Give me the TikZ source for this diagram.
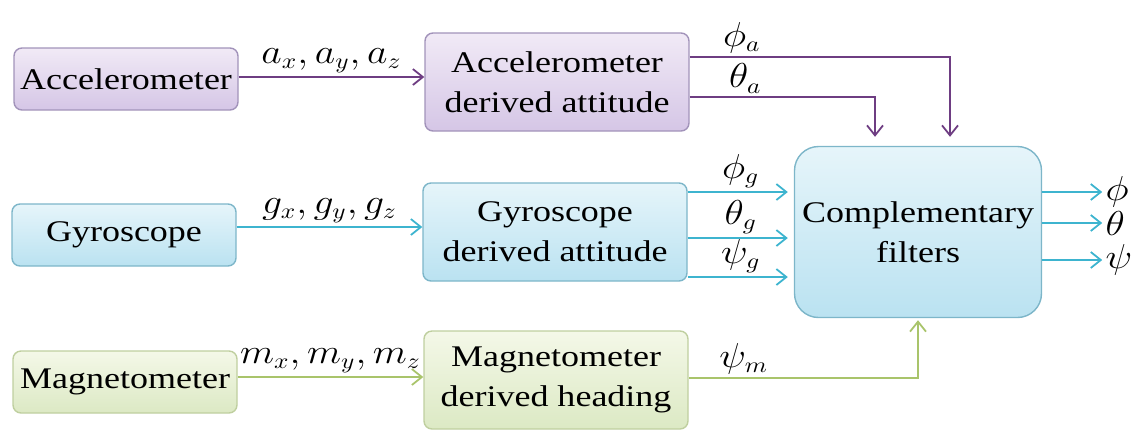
\documentclass[tikz,border=0pt]{standalone}
\usepackage{fontspec}
\setmainfont{Liberation Serif}[FakeStretch=1.2]
\usepackage{graphicx}
\usepackage{tikz}
\usetikzlibrary{arrows.meta}
\definecolor{acctop}{HTML}{F1EAF6}
\definecolor{accbot}{HTML}{D5C6E6}
\definecolor{accline}{HTML}{A293BA}
\definecolor{accarrow}{HTML}{6E3D82}
\definecolor{gyrotop}{HTML}{E6F5FA}
\definecolor{gyrobot}{HTML}{BAE2F1}
\definecolor{gyroline}{HTML}{7DB6C9}
\definecolor{gyroarrow}{HTML}{3DB4CF}
\definecolor{magtop}{HTML}{F4F8E8}
\definecolor{magbot}{HTML}{DCE9C4}
\definecolor{magline}{HTML}{BFCF9F}
\definecolor{magarrow}{HTML}{A9C46B}
\newcommand{\wlabel}[1]{\scalebox{1.15}[1]{$#1$}}

\begin{document}
\begin{tikzpicture}[x=0.5pt, y=-0.5pt,
  sensor/.style={rectangle, rounded corners=4pt, line width=0.7pt, minimum width=112pt, minimum height=31pt, inner sep=1pt, font=\fontsize{15}{20}\selectfont},
  block/.style={rectangle, rounded corners=4pt, line width=0.7pt, minimum width=132pt, minimum height=49pt, align=center, inner sep=1pt, font=\fontsize{15}{20}\selectfont},
  accbox/.style={draw=accline, top color=acctop, bottom color=accbot},
  gyrobox/.style={draw=gyroline, top color=gyrotop, bottom color=gyrobot},
  magbox/.style={draw=magline, top color=magtop, bottom color=magbot},
  filterbox/.style={gyrobox, rounded corners=12pt, minimum width=123.5pt, minimum height=85.5pt},
  flow/.style={line width=0.9pt, -{Straight Barb[length=5pt,width=8pt]}},
  lbl/.style={font=\fontsize{16}{18}\selectfont, inner sep=1.5pt}
]
\useasboundingbox (0,0) rectangle (1139,430);

\node[sensor, accbox]    (acc)    at (126,79)  {Accelerometer};
\node[block, accbox]     (accder) at (557,82)  {Accelerometer\\derived attitude};
\node[sensor, gyrobox]   (gyro)   at (124,235) {Gyroscope};
\node[block, gyrobox]    (gyroder) at (555,232) {Gyroscope\\derived attitude};
\node[sensor, magbox]    (mag)    at (125,382) {Magnetometer};
\node[block, magbox]     (magder) at (556,380) {Magnetometer\\derived heading};
\node[block, filterbox]  (comp)   at (918,232) {Complementary\\filters};

\coordinate (ain) at ([yshift=1pt]acc.east);
\coordinate (gin) at ([yshift=4pt]gyro.east);
\coordinate (min) at ([yshift=2.5pt]mag.east);
\draw[flow, draw=accarrow]  (ain) -- node[lbl, above]{\wlabel{a_x, a_y, a_z}} (ain -| accder.west);
\draw[flow, draw=gyroarrow] (gin) -- node[lbl, above]{\wlabel{g_x, g_y, g_z}} (gin -| gyroder.west);
\draw[flow, draw=magarrow]  (min) -- node[lbl, above]{\wlabel{m_x, m_y, m_z}} (min -| magder.west);

\draw[flow, draw=accarrow, shorten >=4.5pt] ([yshift=12.5pt]accder.east) -| node[lbl, above, pos=0.1]{\wlabel{\phi_a}} ([xshift=16pt]comp.north);
\draw[flow, draw=accarrow, shorten >=4.5pt] ([yshift=-7.5pt]accder.east) -| node[lbl, above, pos=0.15]{\wlabel{\theta_a}} ([xshift=-21.5pt]comp.north);

\coordinate (g1) at ([yshift=20pt]gyroder.east);
\coordinate (g2) at ([yshift=-3pt]gyroder.east);
\coordinate (g3) at ([yshift=-22.5pt]gyroder.east);
\draw[flow, draw=gyroarrow, shorten >=3pt] (g1) -- node[lbl, above]{\wlabel{\phi_g}} (g1 -| comp.west);
\draw[flow, draw=gyroarrow, shorten >=3pt] (g2) -- node[lbl, above]{\wlabel{\theta_g}} (g2 -| comp.west);
\draw[flow, draw=gyroarrow, shorten >=3pt] (g3) -- node[lbl, above]{\wlabel{\psi_g}} (g3 -| comp.west);

\coordinate (mout) at ([yshift=1pt]magder.east);
\draw[flow, draw=magarrow, shorten >=1pt] (mout) -| node[lbl, above, pos=0.12]{\wlabel{\psi_m}} (comp.south);

\node[lbl, anchor=west] (phi)   at ([xshift=30pt, yshift=20pt]comp.east)  {\wlabel{\phi}};
\node[lbl, anchor=west] (theta) at ([xshift=30pt, yshift=4.5pt]comp.east) {\wlabel{\theta}};
\node[lbl, anchor=west] (psi)   at ([xshift=30pt, yshift=-14pt]comp.east) {\wlabel{\psi}};
\draw[flow, draw=gyroarrow] ([yshift=20pt]comp.east)  -- (phi.west);
\draw[flow, draw=gyroarrow] ([yshift=4.5pt]comp.east) -- (theta.west);
\draw[flow, draw=gyroarrow] ([yshift=-14pt]comp.east) -- (psi.west);
\end{tikzpicture}
\end{document}
